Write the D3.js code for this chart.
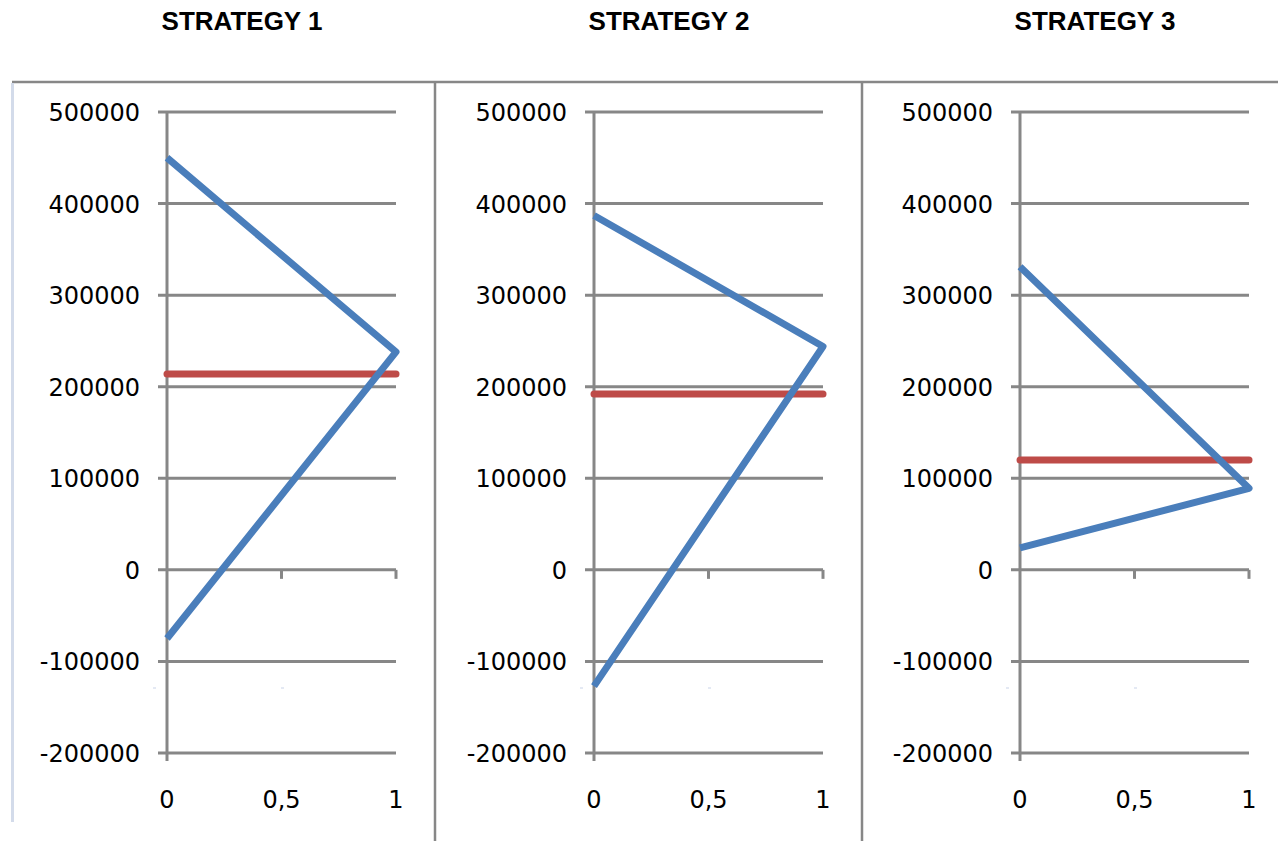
<!DOCTYPE html>
<html>
<head>
<meta charset="utf-8">
<script src="https://cdn.jsdelivr.net/npm/d3@7"></script>
<style>
  html, body { margin: 0; padding: 0; background: #ffffff; }
  svg { display: block; }
</style>
</head>
<body>
<svg id="chart" width="1278" height="841"></svg>
<script>
// ---- data ----
const strategies = ["STRATEGY 1", "STRATEGY 2", "STRATEGY 3"];
const xValues = [0, 1];
const xTicks = [0, 0.5, 1];
const xTickLabels = ["0", "0,5", "1"];
const yTicks = [-200000, -100000, 0, 100000, 200000, 300000, 400000, 500000];
const upperLine = [[450000, 238000], [387000, 244000], [331000, 89000]];
const lowerLine = [[-75000, 238000], [-127000, 244000], [24000, 89000]];
const redLevel = [214000, 192000, 120000];

// ---- layout ----
const svg = d3.select("#chart");
const gridColor = "#878787";
const blue = "#4a7ebb";
const red = "#be4b48";
const axisLeft = [167, 594, 1020];
const plotW = 229;

const y = d3.scaleLinear().domain([-200000, 500000]).range([753, 112]);

// frame lines
svg.append("line").attr("x1", 12).attr("x2", 1278).attr("y1", 82).attr("y2", 82)
  .attr("stroke", gridColor).attr("stroke-width", 2.5);
svg.append("line").attr("x1", 12.5).attr("x2", 12.5).attr("y1", 83).attr("y2", 822)
  .attr("stroke", "#d3dbea").attr("stroke-width", 3);
[435, 862].forEach(xd => {
  svg.append("line").attr("x1", xd).attr("x2", xd).attr("y1", 82).attr("y2", 841)
    .attr("stroke", gridColor).attr("stroke-width", 2.5);
});

strategies.forEach((name, i) => {
  const x0 = axisLeft[i];
  const x = d3.scaleLinear().domain([0, 1]).range([x0, x0 + plotW]);
  const g = svg.append("g");

  // title
  g.append("text")
    .attr("x", x0 + 75).attr("y", 30)
    .attr("text-anchor", "middle")
    .attr("font-family", "'Liberation Sans', Arial, sans-serif")
    .attr("font-weight", "bold").attr("font-size", 26)
    .attr("fill", "#000")
    .text(name);

  // gridlines (extend left as major tick marks)
  g.selectAll(".grid").data(yTicks).enter().append("line")
    .attr("x1", x0 - 9).attr("x2", x(1))
    .attr("y1", d => y(d)).attr("y2", d => y(d))
    .attr("stroke", gridColor).attr("stroke-width", 3);

  // y tick labels
  g.selectAll(".ylab").data(yTicks).enter().append("text")
    .attr("x", x0 - 27).attr("y", d => y(d) + 9)
    .attr("text-anchor", "end")
    .attr("font-family", "'DejaVu Sans', sans-serif")
    .attr("font-size", 24)
    .attr("fill", "#000")
    .text(d => String(d));

  // y axis line
  g.append("line").attr("x1", x0).attr("x2", x0)
    .attr("y1", y(500000) - 1).attr("y2", y(-200000) + 8)
    .attr("stroke", gridColor).attr("stroke-width", 3);

  // x axis tick marks (down from zero line)
  g.selectAll(".xt").data(xTicks.slice(1)).enter().append("line")
    .attr("x1", d => x(d)).attr("x2", d => x(d))
    .attr("y1", y(0)).attr("y2", y(0) + 9)
    .attr("stroke", gridColor).attr("stroke-width", 3);

  // x tick labels
  g.selectAll(".xlab").data(xTicks).enter().append("text")
    .attr("x", d => x(d)).attr("y", 808)
    .attr("text-anchor", "middle")
    .attr("font-family", "'DejaVu Sans', sans-serif")
    .attr("font-size", 24)
    .attr("fill", "#000")
    .text((d, k) => xTickLabels[k]);

  // faint artifacts
  [x0 - 14, x0 + 114].forEach(ax => {
    g.append("line").attr("x1", ax).attr("x2", ax + 3).attr("y1", 688).attr("y2", 688)
      .attr("stroke", "#c9d3e8").attr("stroke-width", 1);
  });

  // red constant line
  const redPts = xValues.map(xv => [xv, redLevel[i]]);
  g.append("path")
    .attr("d", d3.line().x(d => x(d[0])).y(d => y(d[1]))(redPts))
    .attr("fill", "none").attr("stroke", red).attr("stroke-width", 7)
    .attr("stroke-linecap", "round");

  // blue V-line: upper start -> peak -> lower start
  const bluePts = [
    [xValues[0], upperLine[i][0]],
    [xValues[1], upperLine[i][1]],
    [xValues[0], lowerLine[i][0]]
  ];
  g.append("path")
    .attr("d", d3.line().x(d => x(d[0])).y(d => y(d[1]))(bluePts))
    .attr("fill", "none").attr("stroke", blue).attr("stroke-width", 7)
    .attr("stroke-linejoin", "round").attr("stroke-linecap", "butt");
});
</script>
</body>
</html>
